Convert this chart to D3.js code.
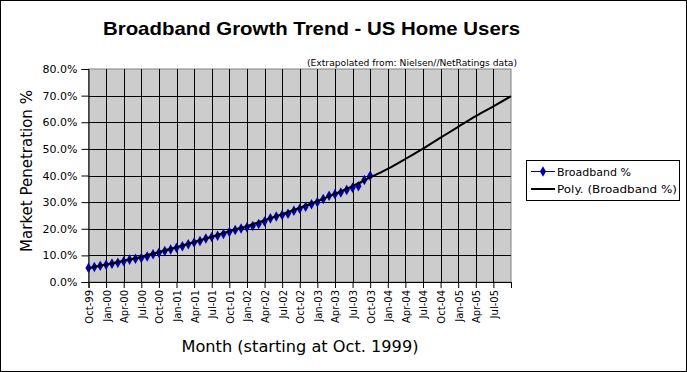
<!DOCTYPE html>
<html>
<head>
<meta charset="utf-8">
<script src="https://cdn.jsdelivr.net/npm/d3@7"></script>
<style>
  body { margin: 0; background: #fff; }
  svg { display: block; }
</style>
</head>
<body>
<svg width="687" height="372"></svg>
<script>
// quarterly tick labels (one per gridline, last gridline has no label)
const quarterLabels = ["Oct-99","Jan-00","Apr-00","Jul-00","Oct-00","Jan-01","Apr-01","Jul-01",
  "Oct-01","Jan-02","Apr-02","Jul-02","Oct-02","Jan-03","Apr-03","Jul-03",
  "Oct-03","Jan-04","Apr-04","Jul-04","Oct-04","Jan-05","Apr-05","Jul-05"];

// monthly broadband %, Oct-99 .. Oct-03
const broadband = [5.3,5.6,6.1,6.5,6.9,7.2,7.8,8.4,8.7,9.0,9.6,10.4,
  11.0,11.6,12.2,12.9,13.4,14.2,14.8,15.4,16.3,16.9,17.4,18.0,
  18.8,19.5,20.1,20.6,21.0,21.8,22.7,23.9,24.6,25.2,25.6,26.8,
  27.5,28.3,29.2,30.0,31.2,32.4,33.0,33.6,34.6,35.4,36.0,38.3,39.9];

// poly trend read at each quarter, Oct-99 .. Oct-05
const trend = [5.2,6.6,8.0,9.5,11.3,13.1,15.0,17.0,19.1,21.0,23.2,25.5,
  27.9,30.4,33.1,36.0,39.3,42.5,46.2,50.1,54.2,58.3,62.3,66.0,69.8];

const yTicks = [0,10,20,30,40,50,60,70,80];

const drawChart = () => {
    const svg = d3.select("svg");
    const left = 88.5, right = 511, top = 69, bottom = 282;
    const blue = "#0000b0";

    const x = d3.scaleLinear().domain([0, 72]).range([left, right]);
    const y = d3.scaleLinear().domain([0, 80]).range([bottom, top]);

    // outer frame
    svg.append("rect").attr("x", 0.5).attr("y", 0.5).attr("width", 686).attr("height", 371)
        .attr("fill", "#fff").attr("stroke", "#000");

    // title + note
    svg.append("text").attr("x", 103).attr("y", 35)
        .attr("textLength", 417).attr("lengthAdjust", "spacingAndGlyphs")
        .style("font-family", "Liberation Sans, Arial, sans-serif")
        .style("font-weight", "bold").style("font-size", "19px")
        .text("Broadband Growth Trend - US Home Users");

    svg.append("text").attr("x", 307).attr("y", 66)
        .attr("textLength", 210).attr("lengthAdjust", "spacingAndGlyphs")
        .style("font-family", "DejaVu Sans, sans-serif").style("font-size", "9px")
        .text("(Extrapolated from: Nielsen//NetRatings data)");

    // plot area
    svg.append("rect").attr("x", left).attr("y", top)
        .attr("width", right - left).attr("height", bottom - top)
        .attr("fill", "#cccccc").attr("stroke", "#808080");

    const qTicks = d3.range(0, 73, 3);

    svg.append("g").selectAll("line").data(yTicks.slice(1, -1)).enter().append("line")
        .attr("x1", left).attr("x2", right)
        .attr("y1", d => Math.round(y(d)) + 0.5).attr("y2", d => Math.round(y(d)) + 0.5)
        .attr("stroke", "#000");

    svg.append("g").selectAll("line").data(qTicks.slice(1, -1)).enter().append("line")
        .attr("x1", d => Math.round(x(d)) + 0.5).attr("x2", d => Math.round(x(d)) + 0.5)
        .attr("y1", top).attr("y2", bottom)
        .attr("stroke", "#000");

    // y axis
    const yAxis = svg.append("g")
        .attr("transform", "translate(" + left + ",0)")
        .call(d3.axisLeft(y).tickValues(yTicks).tickSize(7).tickPadding(4)
            .tickFormat(d => d.toFixed(1) + "%"));
    yAxis.select(".domain").attr("stroke", "#000");
    yAxis.selectAll("text").style("font-family", "DejaVu Sans, sans-serif")
        .style("font-size", "11px").attr("fill", "#000");

    // x axis
    const xAxis = svg.append("g")
        .attr("transform", "translate(0," + bottom + ")")
        .call(d3.axisBottom(x).tickValues(qTicks).tickSize(6).tickFormat(""));
    xAxis.select(".domain").attr("stroke", "#000");

    svg.append("g").selectAll("text").data(quarterLabels).enter().append("text")
        .attr("transform", (d, i) => "translate(" + (x(i * 3) + 1) + "," + (bottom + 8) + ") rotate(-90)")
        .attr("text-anchor", "end").attr("dy", "0.35em")
        .style("font-family", "DejaVu Sans, sans-serif").style("font-size", "10px")
        .text(d => d);

    // axis titles
    svg.append("text")
        .attr("transform", "translate(32,171) rotate(-90)")
        .attr("text-anchor", "middle")
        .style("font-family", "DejaVu Sans, sans-serif").style("font-size", "15px")
        .text("Market Penetration %");

    svg.append("text").attr("x", 300).attr("y", 352)
        .attr("text-anchor", "middle")
        .attr("textLength", 237).attr("lengthAdjust", "spacingAndGlyphs")
        .style("font-family", "DejaVu Sans, sans-serif").style("font-size", "16px")
        .text("Month (starting at Oct. 1999)");

    // series
    const line = d3.line().x((d, i) => x(i)).y(d => y(d));
    svg.append("path").datum(broadband).attr("d", line)
        .attr("fill", "none").attr("stroke", blue).attr("stroke-width", 1);

    const diamond = d3.symbol().type(d3.symbolDiamond).size(32);
    svg.append("g").selectAll("path").data(broadband).enter().append("path")
        .attr("d", diamond)
        .attr("transform", (d, i) => "translate(" + x(i) + "," + y(d) + ")")
        .attr("fill", blue);

    const trendLine = d3.line().x((d, i) => x(i * 3)).y(d => y(d)).curve(d3.curveMonotoneX);
    svg.append("path").datum(trend).attr("d", trendLine)
        .attr("fill", "none").attr("stroke", "#000").attr("stroke-width", 2);

    // legend
    const lg = svg.append("g");
    lg.append("rect").attr("x", 526.5).attr("y", 160.5).attr("width", 153).attr("height", 40)
        .attr("fill", "#fff").attr("stroke", "#000");
    lg.append("line").attr("x1", 531).attr("x2", 555).attr("y1", 171.5).attr("y2", 171.5)
        .attr("stroke", blue);
    lg.append("path").attr("d", diamond).attr("transform", "translate(543,171.5)").attr("fill", blue);
    lg.append("line").attr("x1", 531).attr("x2", 555).attr("y1", 189).attr("y2", 189)
        .attr("stroke", "#000").attr("stroke-width", 2);
    lg.append("text").attr("x", 557).attr("y", 175.5)
        .style("font-family", "DejaVu Sans, sans-serif").style("font-size", "11px")
        .text("Broadband %");
    lg.append("text").attr("x", 557).attr("y", 193)
        .attr("textLength", 120).attr("lengthAdjust", "spacingAndGlyphs")
        .style("font-family", "DejaVu Sans, sans-serif").style("font-size", "11px")
        .text("Poly. (Broadband %)");
}
drawChart();
</script>
</body>
</html>
